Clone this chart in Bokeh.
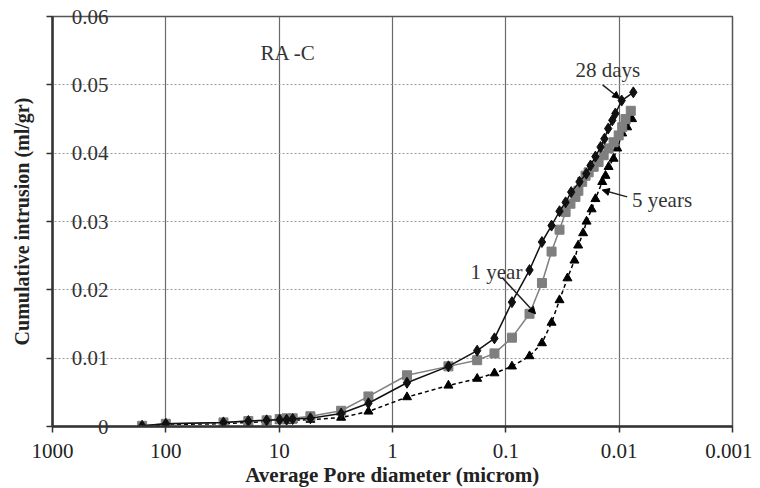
from bokeh.plotting import figure
from bokeh.embed import file_html
from bokeh.resources import INLINE
from bokeh.models import (Range1d, FixedTicker, CustomJSTickFormatter, Arrow,
                          NormalHead, Label, ColumnDataSource)

# ---- data (pore diameter in microm, cumulative intrusion in ml/gr) ----
d_28days = [162, 100, 31, 18.7, 12.9, 9.9, 8.6, 7.6, 5.3, 2.84, 1.63, 0.745, 0.321,
            0.179, 0.126, 0.0883, 0.0618, 0.048, 0.0395, 0.0336, 0.0297, 0.0265,
            0.0224, 0.0195, 0.0179, 0.0162, 0.0146, 0.0135, 0.0125, 0.0115, 0.0108,
            0.0095, 0.0075]
v_28days = [0.0001, 0.0004, 0.0006, 0.0008, 0.0009, 0.001, 0.001, 0.0011, 0.0012,
            0.0019, 0.0034, 0.0064, 0.0088, 0.0111, 0.0129, 0.0182, 0.0229, 0.027,
            0.0294, 0.0315, 0.0328, 0.0343, 0.0358, 0.037, 0.0382, 0.0395, 0.0409,
            0.0421, 0.0436, 0.0448, 0.0458, 0.0477, 0.0489]

d_1year = [162, 100, 31, 18.7, 12.9, 9.9, 8.6, 7.6, 5.3, 2.84, 1.63, 0.745, 0.321,
           0.179, 0.126, 0.0883, 0.0618, 0.048, 0.0395, 0.0336, 0.0297, 0.0269,
           0.0243, 0.0229, 0.0212, 0.0198, 0.0186, 0.0168, 0.0152, 0.0137, 0.0124,
           0.0112, 0.0101, 0.0094, 0.0088, 0.0079]
v_1year = [0.0001, 0.0004, 0.0006, 0.0008, 0.0009, 0.0011, 0.0012, 0.0012, 0.0015,
           0.0023, 0.0044, 0.0075, 0.0088, 0.0097, 0.0107, 0.013, 0.0165, 0.021,
           0.0256, 0.0288, 0.0314, 0.0326, 0.0336, 0.0345, 0.0358, 0.0367, 0.0372,
           0.038, 0.0387, 0.0397, 0.0407, 0.0416, 0.0426, 0.0438, 0.045, 0.0462]

d_5years = [162, 100, 31, 18.7, 12.9, 9.9, 8.6, 7.6, 5.3, 2.84, 1.63, 0.745, 0.321,
            0.179, 0.126, 0.0883, 0.0618, 0.048, 0.0395, 0.0336, 0.0286, 0.0248,
            0.023, 0.0208, 0.0194, 0.0175, 0.0162, 0.0141, 0.0132, 0.0124, 0.0112,
            0.0104, 0.0094, 0.0085, 0.0077]
v_5years = [0.0, 0.0003, 0.0004, 0.0006, 0.0007, 0.0008, 0.0008, 0.0009, 0.001,
            0.0013, 0.0022, 0.0043, 0.006, 0.007, 0.0078, 0.0088, 0.0103, 0.0122,
            0.0152, 0.0185, 0.0217, 0.0243, 0.0265, 0.0283, 0.030, 0.0318, 0.0333,
            0.0358, 0.0367, 0.038, 0.0392, 0.0407, 0.0429, 0.0438, 0.045]

x_ticks = [1000, 100, 10, 1, 0.1, 0.01, 0.001]
y_ticks = [0, 0.01, 0.02, 0.03, 0.04, 0.05, 0.06]
y_tick_labels = ["0", "0.01", "0.02", "0.03", "0.04", "0.05", "0.06"]

# annotations: (text, x, y) and arrows (x_start, y_start, x_end, y_end)
title_text = ("RA -C", 14.6, 0.0547)
ann_28 = ("28 days", 0.0243, 0.0521)
arrow_28 = (0.014, 0.050, 0.0099, 0.048)
ann_1y = ("1 year", 0.205, 0.0226)
arrow_1y = (0.108, 0.0218, 0.0547, 0.0165)
ann_5y = ("5 years", 0.0077, 0.0331)
arrow_5y = (0.0085, 0.0336, 0.0141, 0.0346)

SERIF = "Liberation Serif"

p = figure(frame_width=680, frame_height=410, x_axis_type="log",
           x_range=Range1d(1000, 0.001), y_range=Range1d(0, 0.06),
           output_backend="svg", toolbar_location=None,
           min_border_left=52, min_border_right=20, min_border_top=16,
           min_border_bottom=10, background_fill_color="white",
           border_fill_color="white")

p.outline_line_color = "#555555"
p.outline_line_width = 1.5

# grids
p.xgrid.ticker = FixedTicker(ticks=x_ticks)
p.xgrid.grid_line_color = "#6a6a6a"
p.xgrid.grid_line_width = 1.2
p.ygrid.ticker = FixedTicker(ticks=y_ticks)
p.ygrid.grid_line_color = "#9a9a9a"
p.ygrid.grid_line_dash = "2 2"
p.ygrid.grid_line_width = 1.2

# x axis
p.xaxis.ticker = FixedTicker(ticks=x_ticks)
p.xaxis.formatter = CustomJSTickFormatter(code="return tick.toString();")
p.xaxis.major_label_text_font = SERIF
p.xaxis.major_label_text_font_size = "21px"
p.xaxis.major_label_text_color = "#222222"
p.xaxis.major_label_standoff = 11
p.xaxis.axis_label = "Average Pore diameter (microm)"
p.xaxis.axis_label_text_font = SERIF
p.xaxis.axis_label_text_font_style = "bold"
p.xaxis.axis_label_text_font_size = "21px"
p.xaxis.axis_label_text_color = "#222222"
p.xaxis.axis_label_standoff = 2
p.xaxis.axis_line_width = 2.5
p.xaxis.axis_line_color = "#333333"
p.xaxis.major_tick_out = 6
p.xaxis.major_tick_in = 0
p.xaxis.major_tick_line_color = "#333333"
p.xaxis.major_tick_line_width = 1.5
p.xaxis.minor_tick_line_color = None

# y axis: tick labels pushed inside the frame with a negative standoff
p.yaxis.ticker = FixedTicker(ticks=y_ticks)
p.yaxis.major_label_overrides = {t: s for t, s in zip(y_ticks, y_tick_labels)}
p.yaxis.formatter = CustomJSTickFormatter(
    code="return tick === 0 ? '0' : tick.toFixed(2);")
p.yaxis.major_label_text_font = SERIF
p.yaxis.major_label_text_font_size = "21px"
p.yaxis.major_label_text_color = "#333333"
p.yaxis.major_label_standoff = -62
p.yaxis.axis_label = "Cumulative intrusion (ml/gr)"
p.yaxis.axis_label_text_font = SERIF
p.yaxis.axis_label_text_font_style = "bold"
p.yaxis.axis_label_text_font_size = "20px"
p.yaxis.axis_label_text_color = "#222222"
p.yaxis.axis_label_standoff = 36
p.yaxis.axis_line_width = 2.5
p.yaxis.axis_line_color = "#333333"
p.yaxis.major_tick_out = 6
p.yaxis.major_tick_in = 0
p.yaxis.major_tick_line_color = "#333333"
p.yaxis.major_tick_line_width = 1.5
p.yaxis.minor_tick_line_color = None

# series
s28 = ColumnDataSource(dict(x=d_28days, y=v_28days))
s1 = ColumnDataSource(dict(x=d_1year, y=v_1year))
s5 = ColumnDataSource(dict(x=d_5years, y=v_5years))

p.line("x", "y", source=s5, line_color="black", line_width=1.5, line_dash="4 3")
p.scatter("x", "y", source=s5, marker="triangle", size=9, color="black")

p.line("x", "y", source=s1, line_color="#7f7f7f", line_width=1.5)
p.scatter("x", "y", source=s1, marker="square", size=9, color="#7f7f7f")

p.line("x", "y", source=s28, line_color="#111111", line_width=1.5)
p.scatter("x", "y", source=s28, marker="diamond", size=11, color="#111111")

# annotations
for txt, x, y in (title_text, ann_28, ann_1y, ann_5y):
    p.add_layout(Label(x=x, y=y, text=txt, text_font=SERIF, text_font_size="21px",
                       text_color="#333333", text_baseline="middle", text_align="left"))

for xs, ys, xe, ye in (arrow_28, arrow_1y, arrow_5y):
    p.add_layout(Arrow(end=NormalHead(size=7, fill_color="black", line_color="black"),
                       x_start=xs, y_start=ys, x_end=xe, y_end=ye,
                       line_color="#222222", line_width=1.5))

open("out.html", "w").write(file_html(p, INLINE))
